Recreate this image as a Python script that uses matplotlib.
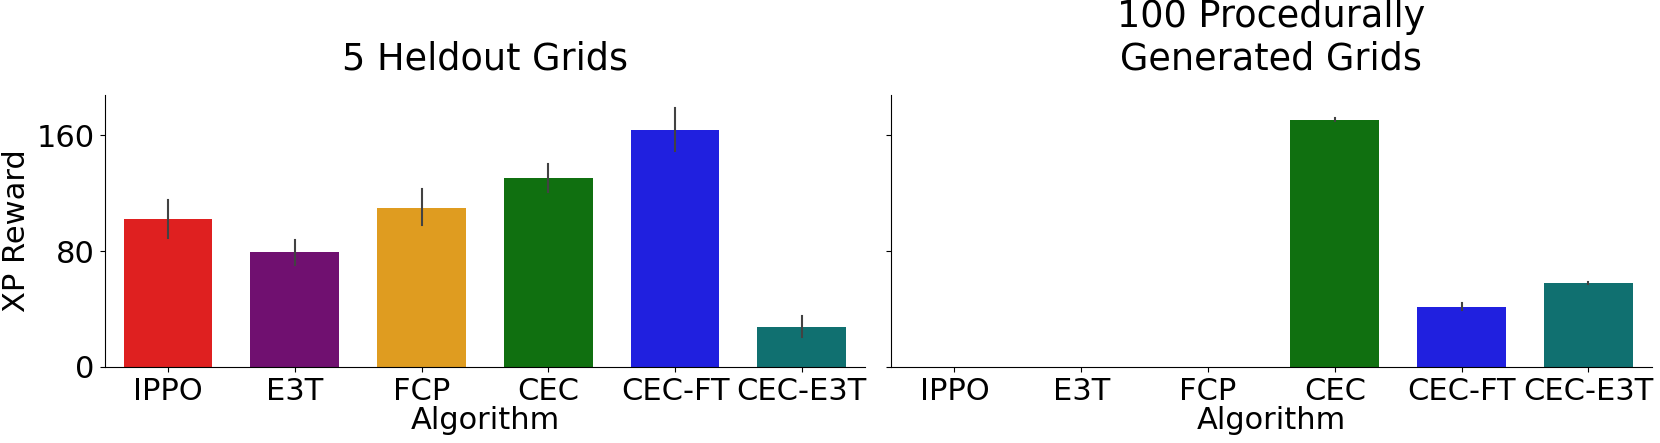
import numpy as np
import matplotlib
matplotlib.use("Agg")
import matplotlib.pyplot as plt
import seaborn as sns

# Data
algorithms = ["IPPO", "E3T", "FCP", "CEC", "CEC-FT", "CEC-E3T"]
palette = ["red", "purple", "orange", "green", "blue", "teal"]

heldout_mean = [102.3, 79.3, 110.0, 130.4, 163.9, 27.8]
heldout_lo = [89.2, 70.6, 98.3, 121.0, 149.2, 20.9]
heldout_hi = [115.2, 87.4, 123.2, 140.0, 179.1, 35.2]

procgen_mean = [0.0, 0.0, 0.0, 170.8, 41.4, 58.1]
procgen_lo = [0.0, 0.0, 0.0, 169.8, 39.3, 57.5]
procgen_hi = [0.0, 0.0, 0.0, 172.2, 43.9, 58.8]

titles = ["5 Heldout Grids", "100 Procedurally\nGenerated Grids"]

plt.rcParams['font.size'] = 22
colors = [sns.desaturate(c, 0.75) for c in palette]

fig, axes = plt.subplots(1, 2, figsize=(16.6, 4.43), dpi=100, sharey=True)
fig.subplots_adjust(left=0.063, right=0.995, bottom=0.172, top=0.786, wspace=0.034)

panels = [
    (heldout_mean, heldout_lo, heldout_hi),
    (procgen_mean, procgen_lo, procgen_hi),
]
x = np.arange(len(algorithms))
for ax, (mean, lo, hi), title in zip(axes, panels, titles):
    ax.bar(x, mean, width=0.7, color=colors)
    for xi, l, h, m in zip(x, lo, hi, mean):
        if h - l > 0:
            ax.plot([xi, xi], [l, h], color="#424242", lw=1.5)
    ax.set_xticks(x)
    ax.set_xticklabels(algorithms)
    ax.set_xlim(-0.5, len(algorithms) - 0.5)
    ax.set_xlabel("Algorithm", labelpad=0)
    ax.set_title(title, pad=18)
    ax.spines["top"].set_visible(False)
    ax.spines["right"].set_visible(False)

axes[0].set_ylim(0, 188)
axes[0].set_yticks([0, 80, 160])
axes[0].set_ylabel("XP Reward")
axes[1].tick_params(axis="y", labelleft=False)

fig.savefig("out.png", dpi=100)
plt.close(fig)
